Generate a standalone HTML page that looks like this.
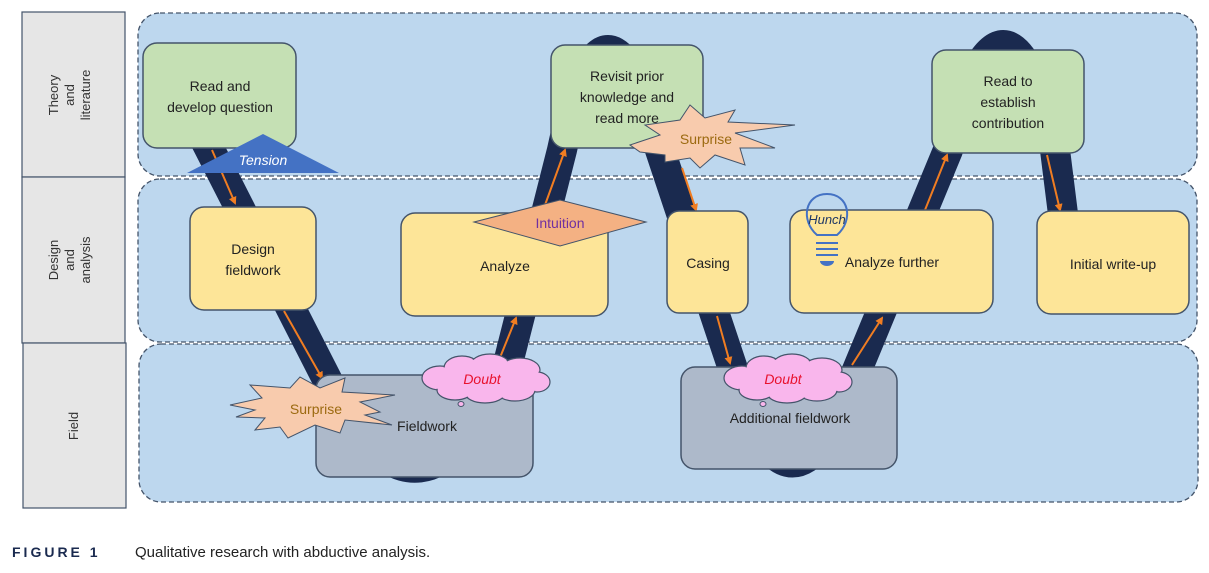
<!DOCTYPE html>
<html><head><meta charset="utf-8"><style>
body{margin:0;background:#fff;width:1209px;height:568px;overflow:hidden}
svg text{font-family:"Liberation Sans",sans-serif}
</style></head><body>
<svg width="1209" height="568" viewBox="0 0 1209 568" xmlns="http://www.w3.org/2000/svg">
<defs>
<marker id="ar" markerWidth="8" markerHeight="8" refX="6" refY="4" orient="auto" markerUnits="userSpaceOnUse"><path d="M0,0 L8,4 L0,8 z" fill="#f07d22"/></marker>
</defs>
<g fill="#e6e6e6" stroke="#44546a" stroke-width="1.2">
<rect x="22" y="12" width="103" height="165"/>
<rect x="22" y="177" width="103" height="166"/>
<rect x="23" y="343" width="103" height="165"/>
</g>
<g font-size="13" fill="#333" text-anchor="middle">
<text transform="translate(72,95) rotate(-90)"><tspan x="0" y="-14">Theory</tspan><tspan x="0" y="2">and</tspan><tspan x="0" y="18">literature</tspan></text>
<text transform="translate(72,260) rotate(-90)"><tspan x="0" y="-14">Design</tspan><tspan x="0" y="2">and</tspan><tspan x="0" y="18">analysis</tspan></text>
<text transform="translate(74,426) rotate(-90)"><tspan x="0" y="4">Field</tspan></text>
</g>
<g fill="#bdd7ee" stroke="#44546a" stroke-width="1.3" stroke-dasharray="5,3">
<rect x="138" y="13" width="1059" height="163" rx="22"/>
<rect x="138" y="179" width="1059" height="163" rx="22"/>
<rect x="139" y="344" width="1059" height="158" rx="22"/>
</g>
<path d="M205,140 L335,395 Q420,550 505,375 L562,150 Q605,-50 660,150 L735,375 Q790,550 855,375 L948,150 Q1005,-60 1055,150 L1065,230" fill="none" stroke="#1a2a4f" stroke-width="30" stroke-linejoin="round"/>
<g stroke="#f07d22" stroke-width="2" marker-end="url(#ar)">
<line x1="212" y1="150" x2="235" y2="203"/>
<line x1="284" y1="311" x2="322" y2="378"/>
<line x1="497" y1="365" x2="516" y2="318"/>
<line x1="545" y1="205" x2="565" y2="150"/>
<line x1="682" y1="168" x2="696" y2="210"/>
<line x1="717" y1="316" x2="730" y2="363"/>
<line x1="852" y1="365" x2="882" y2="318"/>
<line x1="925" y1="210" x2="947" y2="155"/>
<line x1="1047" y1="155" x2="1060" y2="210"/>
</g>
<g stroke="#44546a" stroke-width="1.5">
<rect x="143" y="43" width="153" height="105" rx="14" fill="#c5e0b4"/>
<rect x="551" y="45" width="152" height="103" rx="14" fill="#c5e0b4"/>
<rect x="932" y="50" width="152" height="103" rx="14" fill="#c5e0b4"/>
<rect x="190" y="207" width="126" height="103" rx="14" fill="#fde598"/>
<rect x="401" y="213" width="207" height="103" rx="14" fill="#fde598"/>
<rect x="667" y="211" width="81" height="102" rx="12" fill="#fde598"/>
<rect x="790" y="210" width="203" height="103" rx="14" fill="#fde598"/>
<rect x="1037" y="211" width="152" height="103" rx="14" fill="#fde598"/>
<rect x="316" y="375" width="217" height="102" rx="14" fill="#adb9ca"/>
<rect x="681" y="367" width="216" height="102" rx="14" fill="#adb9ca"/>
</g>
<g font-size="14" fill="#222" text-anchor="middle">
<text x="220" y="91">Read and</text><text x="220" y="112">develop question</text>
<text x="627" y="81">Revisit prior</text><text x="627" y="102">knowledge and</text><text x="627" y="123">read more</text>
<text x="1008" y="86">Read to</text><text x="1008" y="107">establish</text><text x="1008" y="128">contribution</text>
<text x="253" y="254">Design</text><text x="253" y="275">fieldwork</text>
<text x="505" y="271">Analyze</text>
<text x="708" y="268">Casing</text>
<text x="892" y="267">Analyze further</text>
<text x="1113" y="269">Initial write-up</text>
<text x="427" y="431">Fieldwork</text>
<text x="790" y="423">Additional fieldwork</text>
</g>
<polygon points="187,173 263,134 339,173" fill="#4472c4"/>
<text x="263" y="165" font-size="14" font-style="italic" fill="#fff" text-anchor="middle">Tension</text>
<polygon points="474,222 560,200 646,222 560,246" fill="#f4b183" stroke="#44546a" stroke-width="1"/>
<text x="560" y="228" font-size="14" fill="#7030a0" text-anchor="middle">Intuition</text>
<g fill="#f8cbad" stroke="#44546a" stroke-width="1">
<polygon points="230,405 262,398 250,385 290,388 300,377 320,388 345,378 342,392 395,395 360,402 380,412 365,415 392,425 345,420 340,433 315,425 288,438 280,427 255,430 265,418 236,417 255,410"/>
<polygon points="630,145 660,135 645,125 680,120 690,105 705,118 735,110 728,122 795,125 735,133 775,148 740,148 745,165 715,155 700,168 690,158 665,162 665,155 640,152"/>
</g>
<text x="316" y="414" font-size="14" fill="#9c6a10" text-anchor="middle">Surprise</text>
<text x="706" y="144" font-size="14" fill="#9c6a10" text-anchor="middle">Surprise</text>
<g id="c1">
<g fill="#f9b6ec" stroke="#44546a" stroke-width="1.2">
<ellipse cx="440" cy="378" rx="18" ry="12"/><ellipse cx="462" cy="368" rx="18" ry="12"/><ellipse cx="490" cy="366" rx="20" ry="12"/><ellipse cx="520" cy="370" rx="20" ry="12"/><ellipse cx="537" cy="382" rx="13" ry="10"/><ellipse cx="515" cy="390" rx="20" ry="11"/><ellipse cx="485" cy="393" rx="20" ry="10"/><ellipse cx="455" cy="390" rx="18" ry="10"/>
</g>
<g fill="#f9b6ec"><ellipse cx="440" cy="378" rx="17" ry="11"/><ellipse cx="462" cy="368" rx="17" ry="11"/><ellipse cx="490" cy="366" rx="19" ry="11"/><ellipse cx="520" cy="370" rx="19" ry="11"/><ellipse cx="537" cy="382" rx="12" ry="9"/><ellipse cx="515" cy="390" rx="19" ry="10"/><ellipse cx="485" cy="393" rx="19" ry="9"/><ellipse cx="455" cy="390" rx="17" ry="9"/><rect x="445" y="370" width="85" height="18"/></g>
<ellipse cx="461" cy="404" rx="3" ry="2.5" fill="#f9b6ec" stroke="#44546a"/>
</g>
<use href="#c1" transform="translate(302,0)"/>
<text x="482" y="384" font-size="14" font-style="italic" fill="#e8112d" text-anchor="middle">Doubt</text>
<text x="783" y="384" font-size="14" font-style="italic" fill="#e8112d" text-anchor="middle">Doubt</text>
<path d="M817,235 C800,220 805,194 827,194 C849,194 854,220 837,235 Z" fill="none" stroke="#4472c4" stroke-width="2"/>
<g stroke="#4472c4" stroke-width="2"><line x1="816" y1="243" x2="838" y2="243"/><line x1="816" y1="249" x2="838" y2="249"/><line x1="816" y1="255" x2="838" y2="255"/></g>
<path d="M820,261 h14 a7,5 0 0 1 -14,0z" fill="#4472c4"/>
<text x="827" y="224" font-size="13" font-style="italic" fill="#1f3864" text-anchor="middle">Hunch</text>
<text x="12" y="557" font-size="14" font-weight="bold" fill="#1a2a4f" letter-spacing="3">FIGURE 1</text>
<text x="135" y="557" font-size="15" fill="#222">Qualitative research with abductive analysis.</text>
</svg>
</body></html>
